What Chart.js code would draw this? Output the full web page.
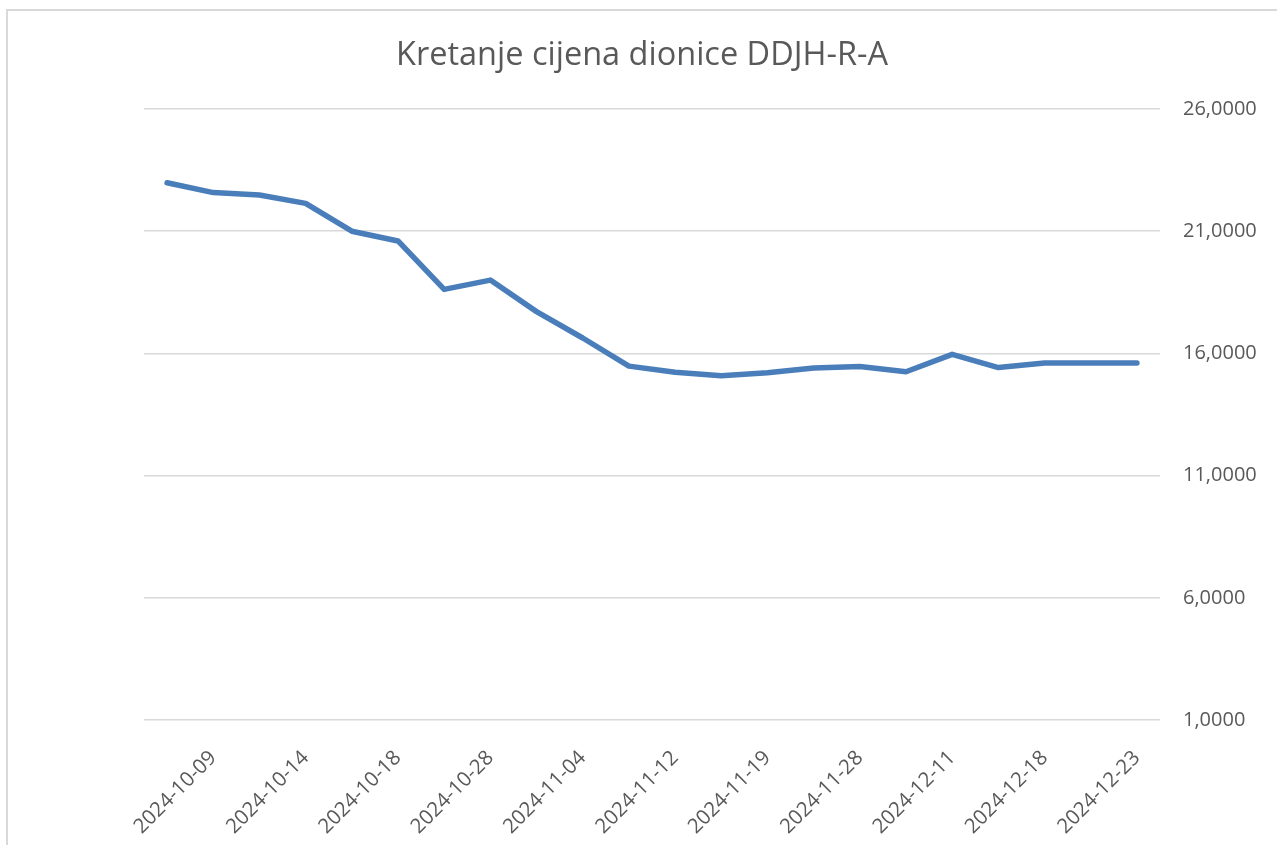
<!DOCTYPE html>
<html>
<head>
<meta charset="utf-8">
<script src="https://cdn.jsdelivr.net/npm/chart.js@4.4.1/dist/chart.umd.min.js"></script>
<style>
  html, body { margin: 0; padding: 0; background: #ffffff; overflow: hidden; }
  #frame { position: absolute; left: 6px; top: 9px; width: 1400px; height: 1000px; border: 2px solid #d9d9d9; box-sizing: border-box; }
  #wrap { position: absolute; left: 0; top: 0; width: 1277px; height: 845px; }
</style>
</head>
<body>
<div id="frame"></div>
<div id="wrap"><canvas id="c" width="1277" height="845"></canvas></div>
<script>
const chartTitle = 'Kretanje cijena dionice DDJH-R-A';
const dateLabels = ['2024-10-09','2024-10-14','2024-10-18','2024-10-28','2024-11-04','2024-11-12','2024-11-19','2024-11-28','2024-12-11','2024-12-18','2024-12-23'];
const prices = [22.98, 22.58, 22.48, 22.14, 21.00, 20.60, 18.62, 19.00, 17.71, 16.63, 15.48, 15.23, 15.09, 15.21, 15.40, 15.46, 15.25, 15.96, 15.42, 15.61, 15.61, 15.61];
const yMin = 1, yMax = 26, yStep = 5;

// one category per price; only every second one carries a shown date
const categories = prices.map((v, i) => (i % 2 === 1 ? dateLabels[(i - 1) / 2] : ''));

const textColor = '#595959';
const fontFam = '"Open Sans", "Noto Sans", sans-serif';

const titlePlugin = {
  id: 'customTitle',
  afterDraw(chart) {
    const ctx = chart.ctx;
    ctx.save();
    ctx.font = '32.5px ' + fontFam;
    ctx.fillStyle = textColor;
    ctx.textAlign = 'center';
    ctx.textBaseline = 'middle';
    ctx.fillText(chartTitle, 642, 56);
    ctx.restore();
  }
};

new Chart(document.getElementById('c'), {
  type: 'line',
  data: {
    labels: categories,
    datasets: [{
      data: prices,
      borderColor: '#4a7ebb',
      borderWidth: 5.5,
      borderCapStyle: 'round',
      borderJoinStyle: 'round',
      pointRadius: 0,
      tension: 0,
      fill: false
    }]
  },
  options: {
    responsive: false,
    animation: false,
    devicePixelRatio: 1,
    layout: { padding: { left: 144, top: 109, right: 0, bottom: 0 } },
    plugins: { legend: { display: false }, title: { display: false }, tooltip: { enabled: false } },
    scales: {
      x: {
        offset: true,
        grid: { display: false, drawTicks: false },
        border: { display: false },
        ticks: {
          autoSkip: false,
          minRotation: 45,
          maxRotation: 45,
          padding: 26,
          color: textColor,
          font: { family: fontFam, size: 20.5 }
        },
        afterFit(scale) { scale.height = 125; }
      },
      y: {
        position: 'right',
        min: yMin,
        max: yMax,
        grid: { color: '#d9d9d9', lineWidth: 1.5, drawTicks: false },
        border: { display: false },
        ticks: {
          stepSize: yStep,
          padding: 23,
          color: textColor,
          font: { family: fontFam, size: 20 },
          callback: (v) => v.toFixed(4).replace('.', ',')
        },
        afterFit(scale) { scale.width = 117; }
      }
    }
  },
  plugins: [titlePlugin]
});
</script>
</body>
</html>
